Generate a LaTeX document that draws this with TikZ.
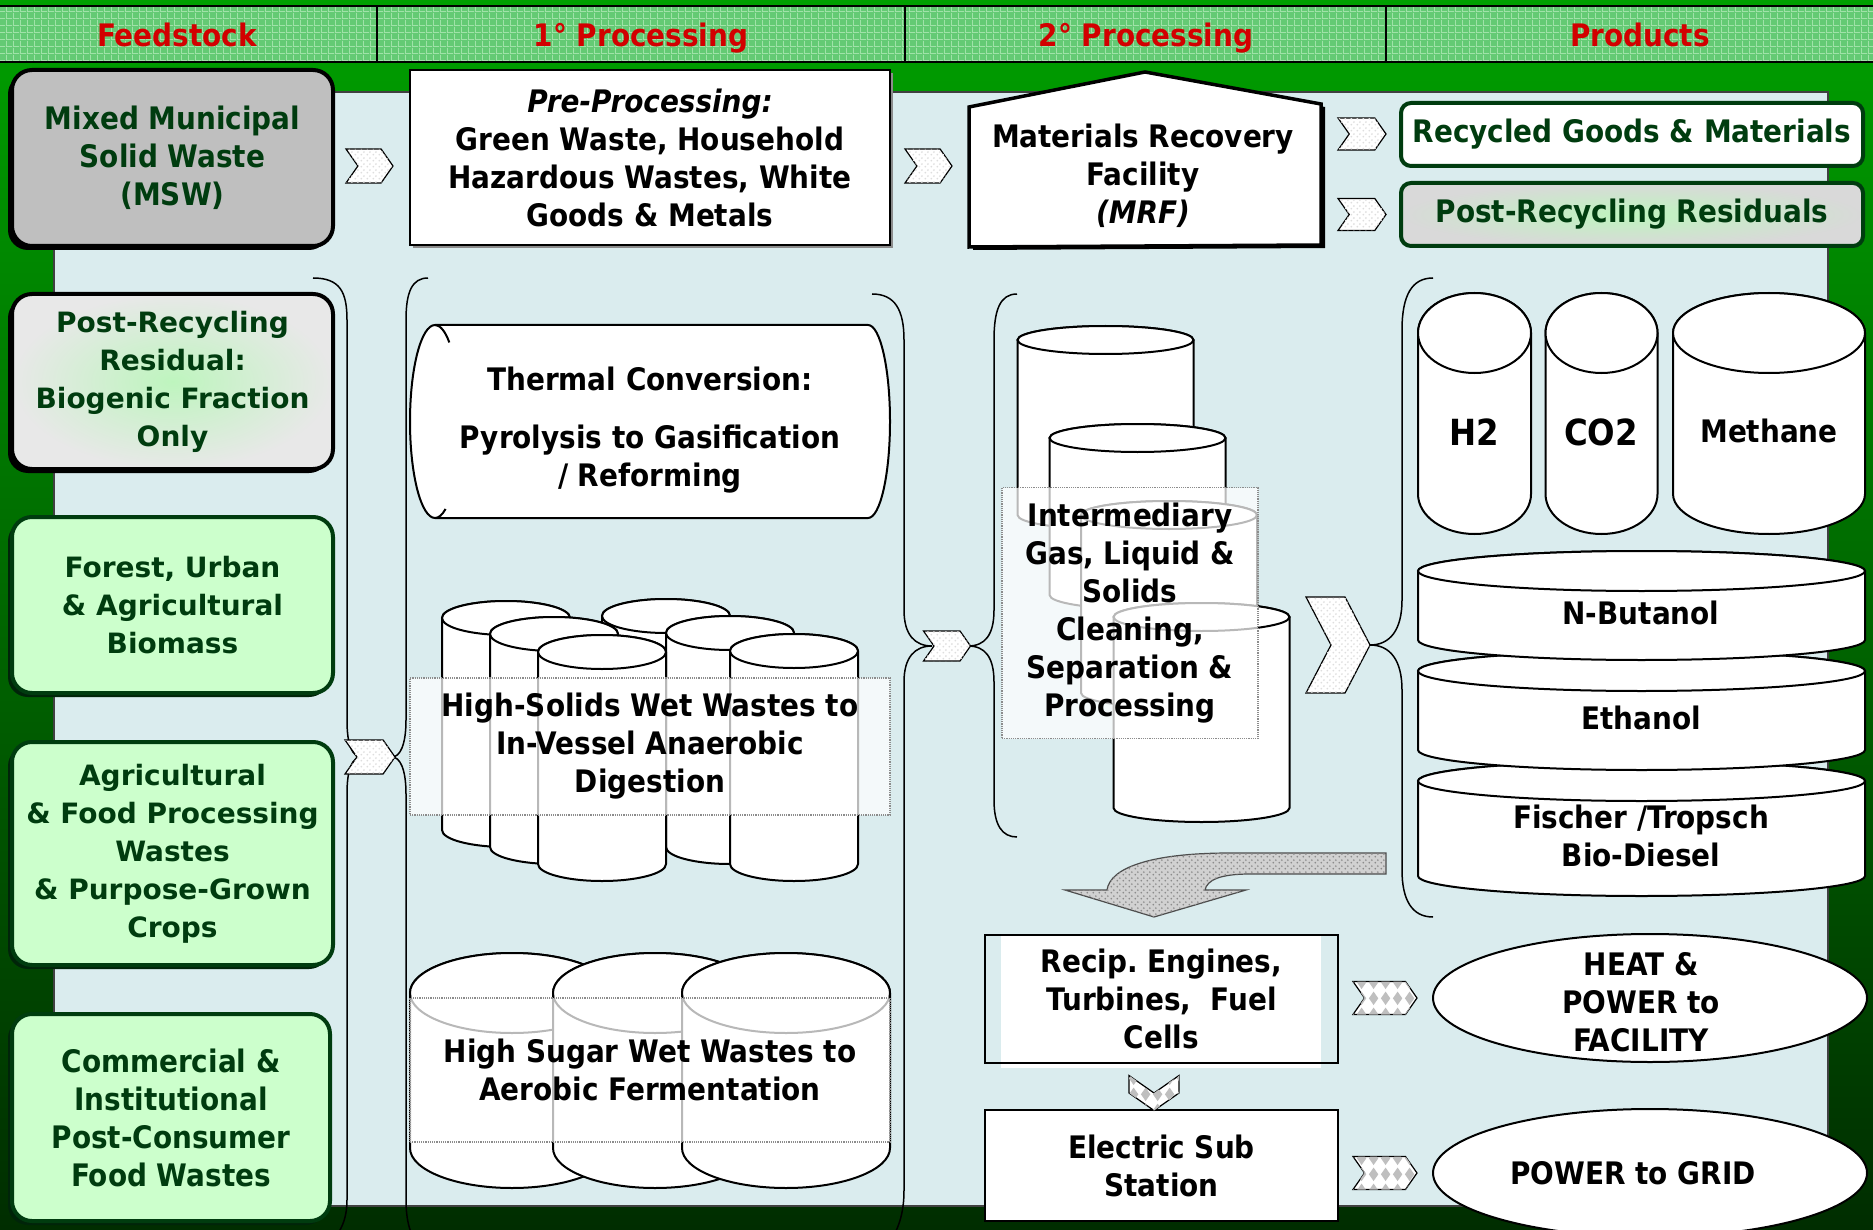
\documentclass[tikz,border=0pt]{standalone}
\usepackage{fontspec}
\setmainfont{DejaVu Sans Condensed}
\newfontfamily\widefont{DejaVu Sans}
\usetikzlibrary{shapes.geometric,shapes.symbols,patterns,shadows}

\definecolor{framegreen}{RGB}{0,160,0}
\definecolor{framedark}{RGB}{0,45,0}
\definecolor{gridgreen}{RGB}{100,202,116}
\definecolor{gridline}{RGB}{160,226,168}
\definecolor{leafgreen}{RGB}{0,60,15}
\definecolor{headred}{RGB}{210,0,0}
\definecolor{panelblue}{RGB}{218,236,238}
\definecolor{mint}{RGB}{204,255,204}
\definecolor{glow}{RGB}{190,245,190}

% fill textures
\pgfdeclarepatternformonly{speckle}{\pgfpointorigin}{\pgfpoint{6pt}{6pt}}{\pgfpoint{6pt}{6pt}}{%
  \pgfpathcircle{\pgfpoint{1.5pt}{1.5pt}}{1.1pt}%
  \pgfpathcircle{\pgfpoint{4.5pt}{4.5pt}}{1.1pt}%
  \pgfusepath{fill}}
\pgfdeclarepatternformonly{harlequin}{\pgfpointorigin}{\pgfpoint{12pt}{16pt}}{\pgfpoint{12pt}{16pt}}{%
  \pgfpathmoveto{\pgfpoint{6pt}{1pt}}\pgfpathlineto{\pgfpoint{11pt}{8pt}}%
  \pgfpathlineto{\pgfpoint{6pt}{15pt}}\pgfpathlineto{\pgfpoint{1pt}{8pt}}%
  \pgfpathclose\pgfusepath{fill}}
\pgfdeclarepatternformonly{fieldgrid}{\pgfpointorigin}{\pgfpoint{7pt}{7pt}}{\pgfpoint{7pt}{7pt}}{%
  \pgfsetlinewidth{0.9pt}%
  \pgfpathmoveto{\pgfpoint{0pt}{0.5pt}}\pgfpathlineto{\pgfpoint{7pt}{0.5pt}}%
  \pgfpathmoveto{\pgfpoint{0.5pt}{0pt}}\pgfpathlineto{\pgfpoint{0.5pt}{7pt}}%
  \pgfusepath{stroke}}

\tikzset{
  every node/.style={inner sep=0, align=center},
  bold31/.style={font=\fontsize{31}{38}\selectfont\bfseries},
  widefeed/.style={font=\widefont\fontsize{28}{38}\selectfont\bfseries},
  heading/.style={bold31, text=headred, anchor=base},
  feedbox/.style={bold31, line width=4, rounded corners=20, text=leafgreen, minimum width=321},
  darkshadow/.style={drop shadow={shadow xshift=-4pt, shadow yshift=-4pt, opacity=1, fill=#1}},
  procbox/.style={bold31, draw=black, line width=2, fill=white},
  outbox/.style={bold31, draw=leafgreen, line width=4, rounded corners=10, text=leafgreen,
    minimum width=462, minimum height=63},
  tankline/.style={draw=black, line width=2, fill=white},
  curlyline/.style={draw=black, line width=1.5},
  veil/.style={bold31, draw=black!45, densely dotted, line width=1.2, fill=white,
    fill opacity=0.72, text opacity=1},
  chev/.style={shape=signal, signal to=east, signal from=west, signal pointer angle=110,
    draw=black, line width=1.2, fill=white, postaction={pattern=speckle, pattern color=black!13}},
  chevdiamond/.style={shape=signal, signal to=east, signal from=west, signal pointer angle=110,
    draw=black, line width=1.2, fill=white, postaction={pattern=harlequin, pattern color=black!25}},
  powerbox/.style={bold31, draw=black, line width=2, minimum width=353},
  oval/.style={ellipse, draw=black, line width=2, fill=white, minimum width=434, minimum height=128}
}

% upright tank: centre x, top y, bottom y, x radius, y radius
\newcommand{\tank}[5]{%
  \draw[tankline] (#1-#4,#2) -- (#1-#4,#3)
    arc[start angle=180,end angle=0,x radius=#4,y radius=#5]
    -- (#1+#4,#2) arc[start angle=0,end angle=-180,x radius=#4,y radius=#5] -- cycle;
  \draw[tankline] (#1,#2) ellipse[x radius=#4,y radius=#5];
}

\begin{document}
\begin{tikzpicture}[x=1pt,y=-1pt]
\useasboundingbox (0,0) rectangle (1873,1230);
\clip (0,0) rectangle (1873,1230);

% frame and column headings
\shade[top color=framegreen, bottom color=framedark] (0,0) rectangle (1873,1230);
\fill[gridgreen] (0,6) rectangle (1873,62);
\fill[pattern=fieldgrid, pattern color=gridline] (0,6) rectangle (1873,62);
\draw[line width=2.5] (0,6) -- (1873,6) (0,62) -- (1873,62);
\foreach \x in {377,905,1386}
  \draw[line width=1.5] (\x,6) -- (\x,62);
\node[heading] (hfeed) at (177,47) {Feedstock};
\node[heading] (hfirst) at (641,47) {1° Processing};
\node[heading] (hsecond) at (1146,47) {2° Processing};
\node[heading] (hprod) at (1640,47) {Products};

\draw[fill=panelblue, draw=black!75, line width=1.5] (54,92) rectangle (1828,1206);

% braces
\draw[curlyline] (313,278) .. controls (340,278) and (347,292) .. (347,320) -- (347,720)
  .. controls (347,745) and (352,757) .. (362,757) .. controls (352,757) and (347,769) .. (347,794)
  -- (347,1200) .. controls (347,1220) and (340,1235) .. (327,1245);
\draw[curlyline] (428,278) .. controls (412,278) and (406,292) .. (406,320) -- (406,720)
  .. controls (406,745) and (400,757) .. (392,757) .. controls (400,757) and (406,769) .. (406,794)
  -- (406,1200) .. controls (406,1220) and (410,1235) .. (418,1245);
\draw[curlyline] (872,294) .. controls (895,294) and (904,310) .. (904,340) -- (904,610)
  .. controls (904,635) and (915,646) .. (932,646) .. controls (915,646) and (904,657) .. (904,682)
  -- (904,1190) .. controls (904,1215) and (898,1230) .. (888,1245);
\draw[curlyline] (1017,294) .. controls (1000,294) and (994,310) .. (994,340) -- (994,610)
  .. controls (994,635) and (985,646) .. (968,646) .. controls (985,646) and (994,657) .. (994,682)
  -- (994,800) .. controls (994,825) and (1002,837) .. (1017,837);
\draw[curlyline] (1433,278) .. controls (1412,278) and (1402,295) .. (1402,330) -- (1402,600)
  .. controls (1402,630) and (1390,645) .. (1370,645) .. controls (1390,645) and (1402,660) .. (1402,690)
  -- (1402,870) .. controls (1402,900) and (1412,917) .. (1433,917);

% feedstock
\node[feedbox, draw=black, fill=black!25, darkshadow=black, minimum height=176] (msw) at (172.5,158)
  {Mixed Municipal\\Solid Waste\\(MSW)};
\node[feedbox, widefeed, draw=black, inner color=glow, outer color=black!9, darkshadow=black,
  minimum height=175] (residual) at (172.5,381.5) {Post-Recycling\\Residual:\\Biogenic Fraction\\Only};
\node[feedbox, widefeed, draw=leafgreen, fill=mint, darkshadow=leafgreen!60!black, minimum height=176]
  (forest) at (172.5,605) {Forest, Urban\\\& Agricultural\\Biomass};
\node[feedbox, widefeed, draw=leafgreen, fill=mint, darkshadow=leafgreen!60!black, minimum height=223]
  (agri) at (172.5,853.5) {Agricultural\\\& Food Processing\\Wastes\\\& Purpose-Grown\\Crops};
\node[feedbox, draw=leafgreen, fill=mint, darkshadow=leafgreen!60!black, minimum width=318,
  minimum height=207] (food) at (171,1117.5) {Commercial \&\\Institutional\\Post-Consumer\\Food Wastes};

% sorting line
\node[procbox, minimum width=480, minimum height=175,
  drop shadow={shadow xshift=3pt, shadow yshift=-3pt, fill=black!45, opacity=1}] (pre) at (650,157.5)
  {{\itshape Pre-Processing:}\\Green Waste, Household\\Hazardous Wastes, White\\Goods \& Metals};
\draw[fill=white, line width=3.5, drop shadow={shadow xshift=4pt, shadow yshift=-3pt, fill=black, opacity=1}]
  (969,107) -- (1145,72) -- (1321,104) -- (1321,245) -- (969,247) -- cycle;
\node[bold31] (mrf) at (1143,176) {Materials Recovery\\Facility\\{\itshape (MRF)}};
\node[outbox, fill=white] (recycled) at (1632,134.5) {Recycled Goods \& Materials};
\node[outbox, inner color=glow, outer color=black!15] (residuals) at (1632,214.5) {Post-Recycling Residuals};

\node[chev, minimum width=47, minimum height=34] (c1) at (369.5,166) {};
\node[chev, minimum width=47, minimum height=34] (c2) at (928.5,166) {};
\node[chev, minimum width=48, minimum height=32] (c3) at (1362,134) {};
\node[chev, minimum width=48, minimum height=32] (c4) at (1362,214.5) {};

% thermal conversion drum
\draw[tankline] (435,325) -- (868,325) arc[start angle=-90,end angle=90,x radius=22,y radius=96.5]
  -- (435,518) arc[start angle=90,end angle=270,x radius=25,y radius=96.5] -- cycle;
\draw[line width=2] (435,325) arc[start angle=-90,end angle=-55,x radius=25,y radius=96.5];
\draw[line width=2] (435,518) arc[start angle=90,end angle=65,x radius=25,y radius=96.5];
\node[bold31] (thermal) at (650,430) {Thermal Conversion:\\[20pt]Pyrolysis to Gasification\\/ Reforming};

% digesters
\tank{506}{618}{830}{64}{17}
\tank{666}{616}{830}{64}{17}
\tank{554}{634}{847}{64}{17}
\tank{730}{633}{847}{64}{17}
\tank{602}{652}{864}{64}{17}
\tank{794}{651}{864}{64}{17}
\node[veil, minimum width=480, minimum height=137] (digest) at (650,746.5)
  {High-Solids Wet Wastes to\\In-Vessel Anaerobic\\Digestion};

% fermenters
\tank{512}{993}{1148}{102}{40}
\tank{655}{993}{1148}{102}{40}
\tank{786}{993}{1148}{104}{40}
\node[veil, minimum width=480, minimum height=144] (ferment) at (650,1070)
  {High Sugar Wet Wastes to\\Aerobic Fermentation};

% secondary processing
\tank{1105.5}{340}{515}{88}{14}
\tank{1137.5}{438}{595}{88}{14}
\tank{1169}{515}{693}{88}{14}
\tank{1201.5}{617}{808}{88}{14}
\node[veil, minimum width=256, minimum height=251] (clean) at (1130,613)
  {Intermediary\\Gas, Liquid \&\\Solids\\Cleaning,\\Separation \&\\Processing};

\node[chev, minimum width=50, minimum height=34] (c5) at (370,757) {};
\node[chev, minimum width=47, minimum height=30] (c6) at (947,646) {};
\node[chev, signal pointer angle=125, minimum width=64, minimum height=96] (c7) at (1338,645) {};

% products
\tank{1474.5}{333}{494}{56.5}{40}
\tank{1601.5}{333}{494}{56}{40}
\tank{1769}{333}{494}{96}{40}
\node[font=\fontsize{36}{40}\selectfont\bfseries] (h2) at (1474,432) {H2};
\node[font=\fontsize{36}{40}\selectfont\bfseries] (co2) at (1601,432) {CO2};
\node[bold31] (methane) at (1769,431) {Methane};
\tank{1641.5}{781}{876}{223.5}{20}
\tank{1641.5}{671}{750}{223.5}{20}
\tank{1641.5}{571}{640}{223.5}{20}
\node[bold31] (butanol) at (1641,613) {N-Butanol};
\node[bold31] (ethanol) at (1641,718) {Ethanol};
\node[bold31] (diesel) at (1641,836) {Fischer /Tropsch\\Bio-Diesel};

% return arrow to power generation
\draw[line width=1.2, draw=black!70, fill=black!18, postaction={pattern=speckle, pattern color=black!45}]
  (1386,853) -- (1230,853) .. controls (1150,853) and (1110,868) .. (1107,890) -- (1065,890)
  -- (1154,917) -- (1246,890) -- (1205,890) .. controls (1207,880) and (1220,874) .. (1250,874)
  -- (1386,874) -- cycle;

% power
\fill[white] (1001,934) rectangle (1321,1068);
\node[powerbox, minimum height=128] (recip) at (1161.5,999)
  {Recip.\ Engines,\\Turbines,~ Fuel\\Cells};
\node[powerbox, fill=white, minimum height=111] (substation) at (1161.5,1165.5) {Electric Sub\\Station};
\node[chevdiamond, rotate=-90, minimum width=29, minimum height=50] (c8) at (1154,1093) {};
\node[oval] (heatoval) at (1650,998) {};
\node[oval] (gridoval) at (1650,1173) {};
\node[bold31] (heat) at (1641,1002) {HEAT \&\\POWER to\\FACILITY};
\node[bold31] (grid) at (1633,1173) {POWER to GRID};
\node[chevdiamond, minimum width=64, minimum height=33] (c9) at (1385,998) {};
\node[chevdiamond, minimum width=64, minimum height=33] (c10) at (1385,1173) {};

\end{tikzpicture}
\end{document}
